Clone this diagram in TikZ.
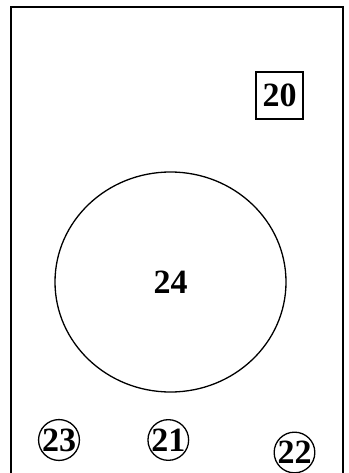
\documentclass[tikz,border=0pt]{standalone}
\usepackage{fontspec}
\setmainfont{Liberation Serif}
\usetikzlibrary{shapes.geometric}
\begin{document}
\begin{tikzpicture}[x=1pt,y=-1pt,
  numtxt/.style={font=\fontsize{34}{34}\selectfont\bfseries},
  boxnode/.style={draw,line width=1.3pt,minimum width=47pt,minimum height=47pt,inner sep=0pt,numtxt},
  circnum/.style={draw,circle,line width=1.3pt,minimum size=39pt,inner sep=0pt,numtxt},
  bigell/.style={draw,ellipse,line width=1.3pt,minimum width=231pt,minimum height=220pt,inner sep=0pt,numtxt}]
\useasboundingbox (0,0) rectangle (348,473);
\begin{scope}
\clip (0,0) rectangle (348,473);
\draw[line width=1.8pt] (11,490) -- (11,7) -- (343,7) -- (343,490);
\end{scope}
\node[boxnode] (n20) at (279.5,95.5) {20};
\node[bigell] (n24) at (170.5,282) {24};
\node[circnum] (n23) at (59,440) {23};
\node[circnum] (n21) at (168.3,440) {21};
\node[circnum] (n22) at (294.5,452.5) {22};
\end{tikzpicture}
\end{document}
